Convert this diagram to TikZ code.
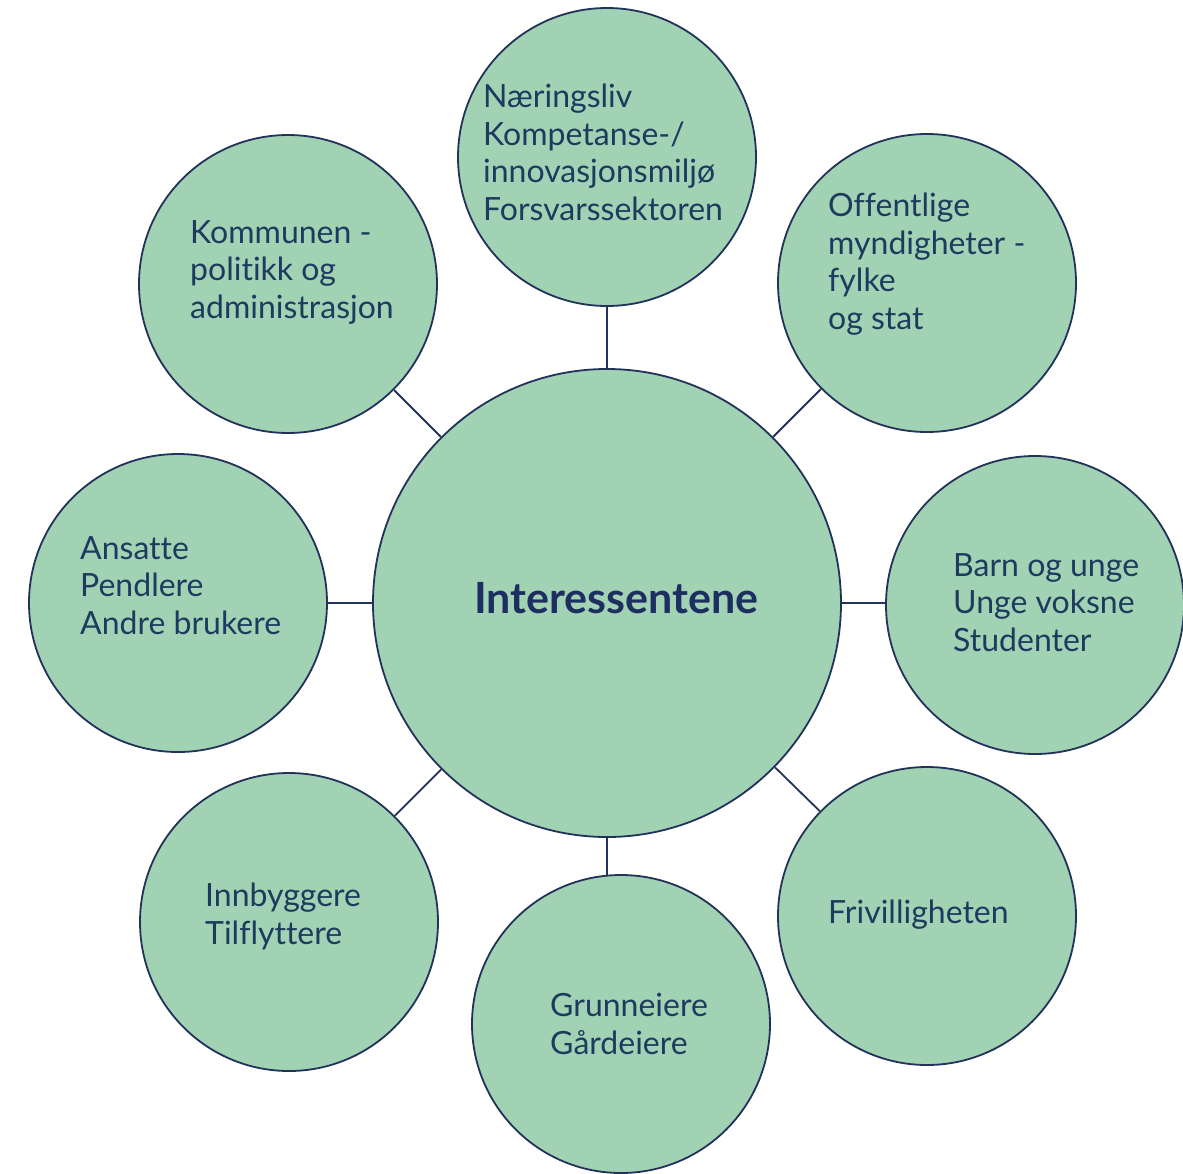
\documentclass[tikz,border=0pt]{standalone}
\usepackage{fontspec}
\setmainfont{Lato}[Ligatures=NoCommon]
\definecolor{bub}{HTML}{A0D2B3}
\definecolor{edge}{HTML}{22325A}
\definecolor{ink}{HTML}{1E3A5F}
\definecolor{hubink}{HTML}{1D2F60}
\begin{document}
\begin{tikzpicture}[x=1pt,y=-1pt,
  bubble/.style={circle, draw=edge, fill=bub, line width=1.8pt, minimum size=298pt, inner sep=0pt},
  hub/.style={bubble, minimum size=468pt},
  lbl/.style={anchor=north west, align=left, inner sep=0pt, text=ink, font=\fontsize{32}{37.5}\selectfont},
  hublbl/.style={anchor=base west, inner sep=0pt, text=hubink, font=\fontsize{43}{50}\selectfont\bfseries},
  link/.style={draw=edge, line width=1.8pt}]
\useasboundingbox (0,0) rectangle (1183,1173);
\fill[white] (0,0) rectangle (1183,1173);

\node[hub] (c) at (607,603) {};
\node[bubble] (t) at (607,157) {};
\node[bubble] (tl) at (288,284) {};
\node[bubble] (tr) at (927,283) {};
\node[bubble] (l) at (178,603) {};
\node[bubble] (r) at (1035,605) {};
\node[bubble] (bl) at (289,922) {};
\node[bubble] (b) at (621,1024) {};
\node[bubble] (br) at (927,916) {};

\foreach \n in {t,tl,tr,l,bl,br} \draw[link] (c) -- (\n);
\draw[link] (c.east) -- (c.east -| r.west);
\draw[link] (c.south) -- ([yshift=-0.7pt]c.south |- b.north);

\node[hublbl] (ct) at (474,613) {Interessentene};
\node[lbl] (tt) at (483,84) {Næringsliv\\Kompetanse-/\\innovasjonsmiljø\\Forsvarssektoren};
\node[lbl] (tlt) at (190,220) {Kommunen -\\politikk og\\administrasjon};
\node[lbl] (trt) at (828,193) {Offentlige\\myndigheter -\\fylke\\og stat};
\node[lbl] (lt) at (80,536) {Ansatte\\Pendlere\\Andre brukere};
\node[lbl] (rt) at (953,553) {Barn og unge\\Unge voksne\\Studenter};
\node[lbl] (blt) at (205,883) {Innbyggere\\Tilflyttere};
\node[lbl] (bt) at (550,993) {Grunneiere\\Gårdeiere};
\node[lbl] (brt) at (828,900) {Frivilligheten};
\end{tikzpicture}
\end{document}
